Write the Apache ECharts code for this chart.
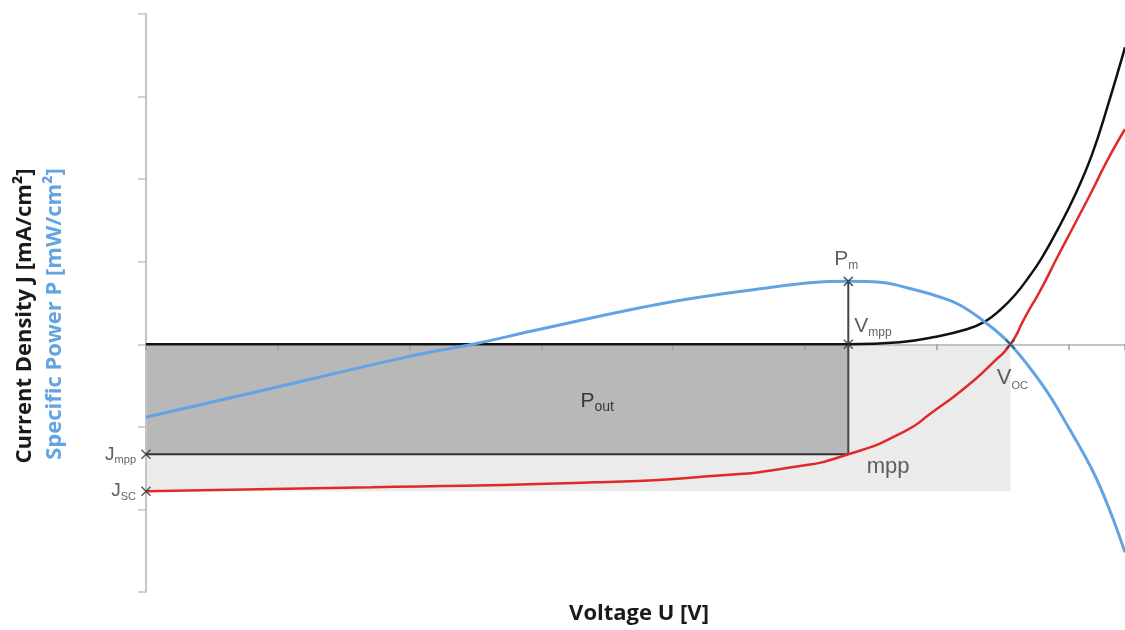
<!DOCTYPE html>
<html><head><meta charset="utf-8">
<script src="https://cdn.jsdelivr.net/npm/echarts@6/dist/echarts.min.js"></script>
<style>html,body{margin:0;padding:0;background:#fff}#c{width:1125px;height:630px}</style>
</head><body><div id="c"></div>
<script>
// Dark J-V curve (voltage V, current density mA/cm²)
const darkU = [0, 0.300, 0.533, 0.572, 0.597, 0.623, 0.637, 0.648, 0.660, 0.671, 0.680, 0.692, 0.705, 0.718, 0.730, 0.743];
const darkJ = [0, 0, 0, 0.12, 0.42, 0.91, 1.39, 2.06, 3.03, 4.18, 5.25, 6.96, 9.02, 11.50, 14.47, 17.98];
// Illuminated J-V curve
const lightU = [0, 0.171, 0.341, 0.427, 0.490, 0.533, 0.575, 0.597, 0.623, 0.643, 0.656, 0.667, 0.680, 0.692, 0.705, 0.718, 0.730, 0.743];
const lightJ = [-8.90, -8.66, -8.36, -7.99, -7.45, -6.66, -5.30, -4.10, -2.54, -1.09, 0, 1.62, 3.45, 5.33, 7.30, 9.30, 11.20, 13.02];
// Specific power curve
const powerU = [0, 0.099, 0.200, 0.248, 0.299, 0.397, 0.475, 0.509, 0.533, 0.557, 0.582, 0.603, 0.618, 0.637, 0.656, 0.681, 0.701, 0.719, 0.732, 0.743];
const powerP = [-4.42, -2.60, -0.73, 0, 0.91, 2.54, 3.45, 3.75, 3.81, 3.75, 3.33, 2.85, 2.36, 1.33, 0, -2.54, -5.15, -7.75, -10.17, -12.6];
// Characteristic points
const Vmpp = 0.533, Voc = 0.656, Jmpp = -6.66, Jsc = -8.90, Pm = 3.81;
// Axis ranges and tick steps
const xMin = 0, xMax = 0.743, xStep = 0.1;
const yMin = -15, yMax = 20, yStep = 5;

const zip = (a, b) => a.map((v, i) => [v, b[i]]);
const FONT = 'Liberation Sans';
const TXT = '#383838';
const sub = (ms, ss) => ({
  m: {fontSize: ms, fontFamily: FONT, color: TXT, lineHeight: ms + 4},
  s: {fontSize: ss, fontFamily: FONT, color: TXT, verticalAlign: 'bottom', lineHeight: ms + 4}
});
const cross = 'path://M0,0L10,10M10,0L0,10';

const chart = echarts.init(document.getElementById('c'));
chart.setOption({
  animation: false,
  backgroundColor: '#fff',
  grid: {left: 146, top: 14, right: 0, height: 578, containLabel: false},
  xAxis: {
    type: 'value', min: xMin, max: xMax, interval: xStep, z: 2,
    axisLine: {onZero: true, lineStyle: {color: '#c4c4c4', width: 2}},
    axisTick: {show: true, length: 6, lineStyle: {color: '#a0a0a0', width: 1.5}},
    axisLabel: {show: false}, splitLine: {show: false}
  },
  yAxis: {
    type: 'value', min: yMin, max: yMax, interval: yStep, z: 2,
    axisLine: {show: true, onZero: false, lineStyle: {color: '#c4c4c4', width: 2}},
    axisTick: {show: true, length: 8, lineStyle: {color: '#c4c4c4', width: 1.5}},
    axisLabel: {show: false}, splitLine: {show: false}
  },
  graphic: [
    {type: 'text', x: 639, y: 614, style: {text: 'Voltage U [V]', font: 'bold 22px "Open Sans"', fill: '#1a1a1a', align: 'center', verticalAlign: 'middle'}},
    {type: 'text', x: 25, y: 316, rotation: Math.PI / 2, style: {text: 'Current Density J [mA/cm²]', font: 'bold 22px "Open Sans"', fill: '#1a1a1a', align: 'center', verticalAlign: 'middle'}},
    {type: 'text', x: 55, y: 314, rotation: Math.PI / 2, style: {text: 'Specific Power P [mW/cm²]', font: 'bold 22px "Open Sans"', fill: '#62a3e3', align: 'center', verticalAlign: 'middle'}}
  ],
  series: [
    {
      type: 'line', z: 5, name: 'Jmpp level', data: [[0, Jmpp], [Vmpp, Jmpp]],
      symbol: 'none', lineStyle: {color: '#333', width: 2},
      markArea: {
        z: 1, silent: true,
        data: [
          [{coord: [0, 0], itemStyle: {color: '#ebebeb'}}, {coord: [Voc, Jsc]}],
          [{coord: [0, 0], itemStyle: {color: '#b8b8b8'},
            label: {show: true, position: 'inside', offset: [100, 2],
              formatter: '{m|P}{s|out}', rich: sub(21, 14)}},
           {coord: [Vmpp, Jmpp]}]
        ]
      }
    },
    {
      type: 'line', z: 5, name: 'Vmpp line', data: [[Vmpp, Pm], [Vmpp, Jmpp]],
      symbol: 'none', lineStyle: {color: '#444', width: 2}
    },
    {
      type: 'line', z: 6, name: 'Dark', data: zip(darkU, darkJ), smooth: 0.45,
      symbol: 'none', lineStyle: {color: '#111', width: 2.5}
    },
    {
      type: 'line', z: 6, name: 'Illuminated', data: zip(lightU, lightJ), smooth: 0.6,
      symbol: 'none', lineStyle: {color: '#e02a2a', width: 2.5}
    },
    {
      type: 'line', z: 7, name: 'Power', data: zip(powerU, powerP), smooth: 0.4,
      symbol: 'none', lineStyle: {color: '#62a3e3', width: 3}
    },
    {
      type: 'scatter', z: 8, clip: false, symbol: cross, symbolSize: 9,
      itemStyle: {color: 'none', borderColor: '#333', borderWidth: 1.5},
      data: [
        {value: [Vmpp, Pm], label: {show: true, position: 'top', distance: 3, offset: [-2, 0], formatter: '{m|P}{s|m}', rich: sub(21, 12)}},
        {value: [Vmpp, 0], label: {show: true, position: 'right', distance: 5, offset: [-6, -18], formatter: '{m|V}{s|mpp}', rich: sub(21, 12)}},
        {value: [Voc, 0], label: {show: true, position: 'bottom', distance: 5, offset: [2, 9], formatter: '{m|V}{s|OC}', rich: sub(22, 11)}},
        {value: [0, Jmpp], label: {show: true, position: 'left', distance: 3, formatter: '{m|J}{s|mpp}', rich: sub(19, 11)}},
        {value: [0, Jsc], label: {show: true, position: 'left', distance: 3, formatter: '{m|J}{s|SC}', rich: sub(19, 11)}}
      ]
    },
    {
      type: 'scatter', z: 8, clip: false, symbolSize: 1, itemStyle: {color: 'rgba(0,0,0,0)'},
      data: [{value: [Vmpp, Jmpp], label: {show: true, position: 'right', distance: 18, offset: [0, 13], formatter: 'mpp', fontSize: 22, fontFamily: FONT, color: TXT}}]
    }
  ]
});
</script>
</body></html>
